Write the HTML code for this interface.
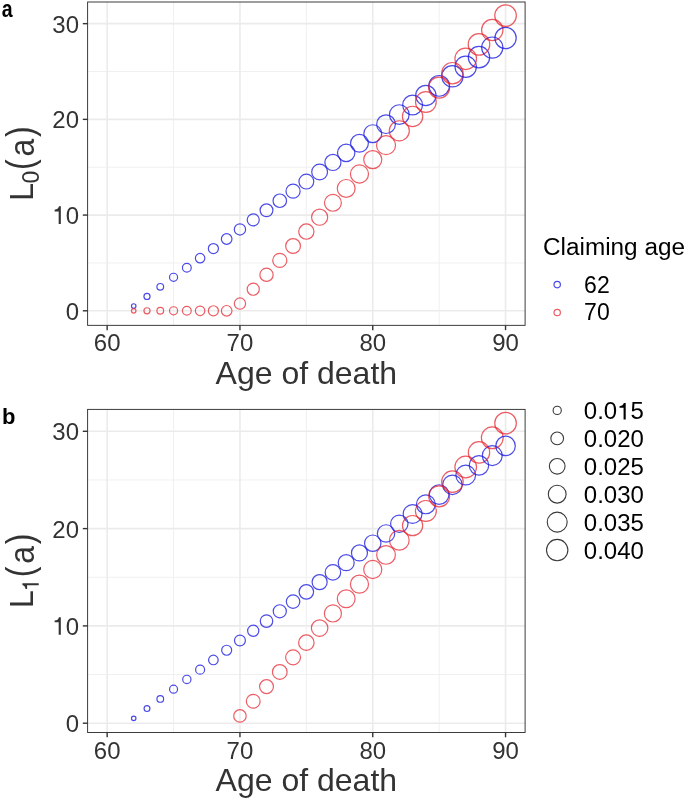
<!DOCTYPE html>
<html><head><meta charset="utf-8"><style>
html,body{margin:0;padding:0;background:#fff;width:685px;height:800px;overflow:hidden}
svg{display:block;will-change:transform}
text{font-family:"Liberation Sans",sans-serif}
</style></head><body>
<svg width="685" height="800" viewBox="0 0 685 800">
<rect width="685" height="800" fill="#fff"/>
<line x1="173.55" y1="2.0" x2="173.55" y2="325.35" stroke="#f0f0f0" stroke-width="1"/>
<line x1="306.35" y1="2.0" x2="306.35" y2="325.35" stroke="#f0f0f0" stroke-width="1"/>
<line x1="439.15" y1="2.0" x2="439.15" y2="325.35" stroke="#f0f0f0" stroke-width="1"/>
<line x1="87.6" y1="262.94" x2="525.1" y2="262.94" stroke="#f0f0f0" stroke-width="1"/>
<line x1="87.6" y1="167.22" x2="525.1" y2="167.22" stroke="#f0f0f0" stroke-width="1"/>
<line x1="87.6" y1="71.51" x2="525.1" y2="71.51" stroke="#f0f0f0" stroke-width="1"/>
<line x1="107.15" y1="2.0" x2="107.15" y2="325.35" stroke="#ebebeb" stroke-width="1.6"/>
<line x1="239.95" y1="2.0" x2="239.95" y2="325.35" stroke="#ebebeb" stroke-width="1.6"/>
<line x1="372.75" y1="2.0" x2="372.75" y2="325.35" stroke="#ebebeb" stroke-width="1.6"/>
<line x1="505.55" y1="2.0" x2="505.55" y2="325.35" stroke="#ebebeb" stroke-width="1.6"/>
<line x1="87.6" y1="310.80" x2="525.1" y2="310.80" stroke="#ebebeb" stroke-width="1.6"/>
<line x1="87.6" y1="215.08" x2="525.1" y2="215.08" stroke="#ebebeb" stroke-width="1.6"/>
<line x1="87.6" y1="119.37" x2="525.1" y2="119.37" stroke="#ebebeb" stroke-width="1.6"/>
<line x1="87.6" y1="23.65" x2="525.1" y2="23.65" stroke="#ebebeb" stroke-width="1.6"/>
<circle cx="133.71" cy="306.01" r="2.25" fill="none" stroke="rgba(30,30,225,0.8)" stroke-width="1.2"/>
<circle cx="133.71" cy="310.80" r="2.25" fill="none" stroke="rgba(228,30,40,0.72)" stroke-width="1.2"/>
<circle cx="146.99" cy="296.44" r="3.05" fill="none" stroke="rgba(30,30,225,0.8)" stroke-width="1.2"/>
<circle cx="146.99" cy="310.80" r="3.05" fill="none" stroke="rgba(228,30,40,0.72)" stroke-width="1.2"/>
<circle cx="160.27" cy="286.87" r="3.35" fill="none" stroke="rgba(30,30,225,0.8)" stroke-width="1.2"/>
<circle cx="160.27" cy="310.80" r="3.35" fill="none" stroke="rgba(228,30,40,0.72)" stroke-width="1.2"/>
<circle cx="173.55" cy="277.30" r="4.05" fill="none" stroke="rgba(30,30,225,0.8)" stroke-width="1.2"/>
<circle cx="173.55" cy="310.80" r="4.05" fill="none" stroke="rgba(228,30,40,0.72)" stroke-width="1.2"/>
<circle cx="186.83" cy="267.73" r="4.40" fill="none" stroke="rgba(30,30,225,0.8)" stroke-width="1.2"/>
<circle cx="186.83" cy="310.80" r="4.40" fill="none" stroke="rgba(228,30,40,0.72)" stroke-width="1.2"/>
<circle cx="200.11" cy="258.16" r="4.75" fill="none" stroke="rgba(30,30,225,0.8)" stroke-width="1.2"/>
<circle cx="200.11" cy="310.80" r="4.75" fill="none" stroke="rgba(228,30,40,0.72)" stroke-width="1.2"/>
<circle cx="213.39" cy="248.58" r="5.05" fill="none" stroke="rgba(30,30,225,0.8)" stroke-width="1.2"/>
<circle cx="213.39" cy="310.80" r="5.05" fill="none" stroke="rgba(228,30,40,0.72)" stroke-width="1.2"/>
<circle cx="226.67" cy="239.01" r="5.30" fill="none" stroke="rgba(30,30,225,0.8)" stroke-width="1.2"/>
<circle cx="226.67" cy="310.80" r="5.30" fill="none" stroke="rgba(228,30,40,0.72)" stroke-width="1.2"/>
<circle cx="239.95" cy="229.44" r="5.65" fill="none" stroke="rgba(30,30,225,0.8)" stroke-width="1.2"/>
<circle cx="239.95" cy="303.62" r="5.65" fill="none" stroke="rgba(228,30,40,0.72)" stroke-width="1.2"/>
<circle cx="253.23" cy="219.87" r="6.05" fill="none" stroke="rgba(30,30,225,0.8)" stroke-width="1.2"/>
<circle cx="253.23" cy="289.22" r="6.05" fill="none" stroke="rgba(228,30,40,0.72)" stroke-width="1.2"/>
<circle cx="266.51" cy="210.30" r="6.40" fill="none" stroke="rgba(30,30,225,0.8)" stroke-width="1.2"/>
<circle cx="266.51" cy="274.82" r="6.65" fill="none" stroke="rgba(228,30,40,0.72)" stroke-width="1.2"/>
<circle cx="279.79" cy="200.73" r="6.75" fill="none" stroke="rgba(30,30,225,0.8)" stroke-width="1.2"/>
<circle cx="279.79" cy="260.42" r="7.05" fill="none" stroke="rgba(228,30,40,0.72)" stroke-width="1.2"/>
<circle cx="293.07" cy="191.15" r="7.05" fill="none" stroke="rgba(30,30,225,0.8)" stroke-width="1.2"/>
<circle cx="293.07" cy="246.02" r="7.40" fill="none" stroke="rgba(228,30,40,0.72)" stroke-width="1.2"/>
<circle cx="306.35" cy="181.58" r="7.40" fill="none" stroke="rgba(30,30,225,0.8)" stroke-width="1.2"/>
<circle cx="306.35" cy="231.62" r="7.65" fill="none" stroke="rgba(228,30,40,0.72)" stroke-width="1.2"/>
<circle cx="319.63" cy="172.01" r="7.90" fill="none" stroke="rgba(30,30,225,0.8)" stroke-width="1.2"/>
<circle cx="319.63" cy="217.22" r="8.05" fill="none" stroke="rgba(228,30,40,0.72)" stroke-width="1.2"/>
<circle cx="332.91" cy="162.44" r="8.05" fill="none" stroke="rgba(30,30,225,0.8)" stroke-width="1.2"/>
<circle cx="332.91" cy="202.82" r="8.45" fill="none" stroke="rgba(228,30,40,0.72)" stroke-width="1.2"/>
<circle cx="346.19" cy="152.87" r="8.70" fill="none" stroke="rgba(30,30,225,0.8)" stroke-width="1.2"/>
<circle cx="346.19" cy="188.42" r="8.90" fill="none" stroke="rgba(228,30,40,0.72)" stroke-width="1.2"/>
<circle cx="359.47" cy="143.30" r="8.90" fill="none" stroke="rgba(30,30,225,0.8)" stroke-width="1.2"/>
<circle cx="359.47" cy="174.02" r="9.05" fill="none" stroke="rgba(228,30,40,0.72)" stroke-width="1.2"/>
<circle cx="372.75" cy="133.72" r="8.95" fill="none" stroke="rgba(30,30,225,0.8)" stroke-width="1.2"/>
<circle cx="372.75" cy="159.62" r="9.05" fill="none" stroke="rgba(228,30,40,0.72)" stroke-width="1.2"/>
<circle cx="386.03" cy="124.15" r="9.35" fill="none" stroke="rgba(30,30,225,0.8)" stroke-width="1.2"/>
<circle cx="386.03" cy="145.21" r="9.50" fill="none" stroke="rgba(228,30,40,0.72)" stroke-width="1.2"/>
<circle cx="399.31" cy="114.58" r="9.85" fill="none" stroke="rgba(30,30,225,0.8)" stroke-width="1.2"/>
<circle cx="399.31" cy="130.81" r="10.05" fill="none" stroke="rgba(228,30,40,0.72)" stroke-width="1.2"/>
<circle cx="412.59" cy="105.01" r="9.90" fill="none" stroke="rgba(30,30,225,0.8)" stroke-width="1.2"/>
<circle cx="412.59" cy="116.41" r="10.15" fill="none" stroke="rgba(228,30,40,0.72)" stroke-width="1.2"/>
<circle cx="425.87" cy="95.44" r="10.15" fill="none" stroke="rgba(30,30,225,0.8)" stroke-width="1.2"/>
<circle cx="425.87" cy="102.01" r="10.35" fill="none" stroke="rgba(228,30,40,0.72)" stroke-width="1.2"/>
<circle cx="439.15" cy="85.87" r="10.36" fill="none" stroke="rgba(30,30,225,0.8)" stroke-width="1.2"/>
<circle cx="439.15" cy="87.61" r="10.51" fill="none" stroke="rgba(228,30,40,0.72)" stroke-width="1.2"/>
<circle cx="452.43" cy="76.29" r="10.67" fill="none" stroke="rgba(30,30,225,0.8)" stroke-width="1.2"/>
<circle cx="452.43" cy="73.21" r="10.72" fill="none" stroke="rgba(228,30,40,0.72)" stroke-width="1.2"/>
<circle cx="465.71" cy="66.72" r="10.68" fill="none" stroke="rgba(30,30,225,0.8)" stroke-width="1.2"/>
<circle cx="465.71" cy="58.81" r="10.78" fill="none" stroke="rgba(228,30,40,0.72)" stroke-width="1.2"/>
<circle cx="478.99" cy="57.15" r="10.68" fill="none" stroke="rgba(30,30,225,0.8)" stroke-width="1.2"/>
<circle cx="478.99" cy="44.41" r="10.78" fill="none" stroke="rgba(228,30,40,0.72)" stroke-width="1.2"/>
<circle cx="492.27" cy="47.58" r="10.59" fill="none" stroke="rgba(30,30,225,0.8)" stroke-width="1.2"/>
<circle cx="492.27" cy="30.01" r="10.69" fill="none" stroke="rgba(228,30,40,0.72)" stroke-width="1.2"/>
<circle cx="505.55" cy="38.01" r="10.65" fill="none" stroke="rgba(30,30,225,0.8)" stroke-width="1.2"/>
<circle cx="505.55" cy="15.61" r="10.80" fill="none" stroke="rgba(228,30,40,0.72)" stroke-width="1.2"/>
<rect x="87.6" y="2.0" width="437.50" height="323.35" fill="none" stroke="#333" stroke-width="0.95"/>
<line x1="82.8" y1="310.80" x2="87.6" y2="310.80" stroke="#333" stroke-width="1.4"/>
<g transform="translate(65.65,319.70) scale(1.0,1.035)" fill="#333"><text x="0.00" y="0" font-size="24">0</text></g>
<line x1="82.8" y1="215.08" x2="87.6" y2="215.08" stroke="#333" stroke-width="1.4"/>
<g transform="translate(52.30,223.98) scale(1.0,1.035)" fill="#333"><path transform="translate(0.00,0) scale(0.0240,-0.0240)" d="M266 0L266 505L97 505L97 573C210 588 244 613 279 709L355 709L355 0Z"/><text x="13.35" y="0" font-size="24">0</text></g>
<line x1="82.8" y1="119.37" x2="87.6" y2="119.37" stroke="#333" stroke-width="1.4"/>
<g transform="translate(52.30,128.27) scale(1.0,1.035)" fill="#333"><text x="0.00" y="0" font-size="24">20</text></g>
<line x1="82.8" y1="23.65" x2="87.6" y2="23.65" stroke="#333" stroke-width="1.4"/>
<g transform="translate(52.30,32.55) scale(1.0,1.035)" fill="#333"><text x="0.00" y="0" font-size="24">30</text></g>
<line x1="107.15" y1="325.35" x2="107.15" y2="330.15" stroke="#333" stroke-width="1.4"/>
<g transform="translate(93.80,351.35) scale(1.0,1.025)" fill="#333"><text x="0.00" y="0" font-size="24">60</text></g>
<line x1="239.95" y1="325.35" x2="239.95" y2="330.15" stroke="#333" stroke-width="1.4"/>
<g transform="translate(226.60,351.35) scale(1.0,1.025)" fill="#333"><text x="0.00" y="0" font-size="24">70</text></g>
<line x1="372.75" y1="325.35" x2="372.75" y2="330.15" stroke="#333" stroke-width="1.4"/>
<g transform="translate(359.40,351.35) scale(1.0,1.025)" fill="#333"><text x="0.00" y="0" font-size="24">80</text></g>
<line x1="505.55" y1="325.35" x2="505.55" y2="330.15" stroke="#333" stroke-width="1.4"/>
<g transform="translate(492.20,351.35) scale(1.0,1.025)" fill="#333"><text x="0.00" y="0" font-size="24">90</text></g>
<text x="306.35" y="384.05" text-anchor="middle" font-size="32" fill="#333">Age of death</text>
<g transform="translate(32.9,199.08) rotate(-90)" fill="#333"><text x="-1.6" y="0" font-size="32" transform="scale(1,1.05)">L</text><text x="15.50" y="5.80" font-size="23" fill="#333">0</text><text x="29.0" y="0" font-size="32" transform="translate(0,0.77) scale(1,1.24) translate(0,-0.77)">(</text><text x="42.5" y="0" font-size="32" transform="translate(0,1.2) scale(1,1.08)">a</text><text x="62.0" y="0" font-size="32" transform="translate(0,0.77) scale(1,1.24) translate(0,-0.77)">)</text></g>
<text x="0" y="0" font-size="23" font-weight="bold" fill="#000" transform="translate(1.7,17.1) scale(0.85,1)">a</text>
<line x1="173.55" y1="409.4" x2="173.55" y2="732.5" stroke="#f0f0f0" stroke-width="1"/>
<line x1="306.35" y1="409.4" x2="306.35" y2="732.5" stroke="#f0f0f0" stroke-width="1"/>
<line x1="439.15" y1="409.4" x2="439.15" y2="732.5" stroke="#f0f0f0" stroke-width="1"/>
<line x1="87.6" y1="674.55" x2="525.1" y2="674.55" stroke="#f0f0f0" stroke-width="1"/>
<line x1="87.6" y1="577.25" x2="525.1" y2="577.25" stroke="#f0f0f0" stroke-width="1"/>
<line x1="87.6" y1="479.95" x2="525.1" y2="479.95" stroke="#f0f0f0" stroke-width="1"/>
<line x1="107.15" y1="409.4" x2="107.15" y2="732.5" stroke="#ebebeb" stroke-width="1.6"/>
<line x1="239.95" y1="409.4" x2="239.95" y2="732.5" stroke="#ebebeb" stroke-width="1.6"/>
<line x1="372.75" y1="409.4" x2="372.75" y2="732.5" stroke="#ebebeb" stroke-width="1.6"/>
<line x1="505.55" y1="409.4" x2="505.55" y2="732.5" stroke="#ebebeb" stroke-width="1.6"/>
<line x1="87.6" y1="723.20" x2="525.1" y2="723.20" stroke="#ebebeb" stroke-width="1.6"/>
<line x1="87.6" y1="625.90" x2="525.1" y2="625.90" stroke="#ebebeb" stroke-width="1.6"/>
<line x1="87.6" y1="528.60" x2="525.1" y2="528.60" stroke="#ebebeb" stroke-width="1.6"/>
<line x1="87.6" y1="431.30" x2="525.1" y2="431.30" stroke="#ebebeb" stroke-width="1.6"/>
<circle cx="133.71" cy="718.34" r="2.25" fill="none" stroke="rgba(30,30,225,0.8)" stroke-width="1.2"/>
<circle cx="146.99" cy="708.61" r="2.90" fill="none" stroke="rgba(30,30,225,0.8)" stroke-width="1.2"/>
<circle cx="160.27" cy="698.88" r="3.35" fill="none" stroke="rgba(30,30,225,0.8)" stroke-width="1.2"/>
<circle cx="173.55" cy="689.15" r="4.00" fill="none" stroke="rgba(30,30,225,0.8)" stroke-width="1.2"/>
<circle cx="186.83" cy="679.42" r="4.15" fill="none" stroke="rgba(30,30,225,0.8)" stroke-width="1.2"/>
<circle cx="200.11" cy="669.69" r="4.50" fill="none" stroke="rgba(30,30,225,0.8)" stroke-width="1.2"/>
<circle cx="213.39" cy="659.96" r="4.80" fill="none" stroke="rgba(30,30,225,0.8)" stroke-width="1.2"/>
<circle cx="226.67" cy="650.23" r="5.00" fill="none" stroke="rgba(30,30,225,0.8)" stroke-width="1.2"/>
<circle cx="239.95" cy="640.50" r="5.45" fill="none" stroke="rgba(30,30,225,0.8)" stroke-width="1.2"/>
<circle cx="239.95" cy="715.90" r="6.25" fill="none" stroke="rgba(228,30,40,0.72)" stroke-width="1.2"/>
<circle cx="253.23" cy="630.77" r="5.60" fill="none" stroke="rgba(30,30,225,0.8)" stroke-width="1.2"/>
<circle cx="253.23" cy="701.26" r="6.90" fill="none" stroke="rgba(228,30,40,0.72)" stroke-width="1.2"/>
<circle cx="266.51" cy="621.04" r="6.25" fill="none" stroke="rgba(30,30,225,0.8)" stroke-width="1.2"/>
<circle cx="266.51" cy="686.62" r="6.95" fill="none" stroke="rgba(228,30,40,0.72)" stroke-width="1.2"/>
<circle cx="279.79" cy="611.31" r="6.55" fill="none" stroke="rgba(30,30,225,0.8)" stroke-width="1.2"/>
<circle cx="279.79" cy="671.99" r="7.35" fill="none" stroke="rgba(228,30,40,0.72)" stroke-width="1.2"/>
<circle cx="293.07" cy="601.58" r="6.75" fill="none" stroke="rgba(30,30,225,0.8)" stroke-width="1.2"/>
<circle cx="293.07" cy="657.35" r="7.45" fill="none" stroke="rgba(228,30,40,0.72)" stroke-width="1.2"/>
<circle cx="306.35" cy="591.85" r="7.25" fill="none" stroke="rgba(30,30,225,0.8)" stroke-width="1.2"/>
<circle cx="306.35" cy="642.71" r="7.75" fill="none" stroke="rgba(228,30,40,0.72)" stroke-width="1.2"/>
<circle cx="319.63" cy="582.12" r="7.55" fill="none" stroke="rgba(30,30,225,0.8)" stroke-width="1.2"/>
<circle cx="319.63" cy="628.07" r="8.25" fill="none" stroke="rgba(228,30,40,0.72)" stroke-width="1.2"/>
<circle cx="332.91" cy="572.38" r="7.75" fill="none" stroke="rgba(30,30,225,0.8)" stroke-width="1.2"/>
<circle cx="332.91" cy="613.43" r="8.55" fill="none" stroke="rgba(228,30,40,0.72)" stroke-width="1.2"/>
<circle cx="346.19" cy="562.65" r="8.00" fill="none" stroke="rgba(30,30,225,0.8)" stroke-width="1.2"/>
<circle cx="346.19" cy="598.79" r="8.90" fill="none" stroke="rgba(228,30,40,0.72)" stroke-width="1.2"/>
<circle cx="359.47" cy="552.93" r="8.00" fill="none" stroke="rgba(30,30,225,0.8)" stroke-width="1.2"/>
<circle cx="359.47" cy="584.15" r="9.05" fill="none" stroke="rgba(228,30,40,0.72)" stroke-width="1.2"/>
<circle cx="372.75" cy="543.20" r="8.20" fill="none" stroke="rgba(30,30,225,0.8)" stroke-width="1.2"/>
<circle cx="372.75" cy="569.51" r="9.05" fill="none" stroke="rgba(228,30,40,0.72)" stroke-width="1.2"/>
<circle cx="386.03" cy="533.47" r="8.70" fill="none" stroke="rgba(30,30,225,0.8)" stroke-width="1.2"/>
<circle cx="386.03" cy="554.88" r="9.35" fill="none" stroke="rgba(228,30,40,0.72)" stroke-width="1.2"/>
<circle cx="399.31" cy="523.74" r="8.70" fill="none" stroke="rgba(30,30,225,0.8)" stroke-width="1.2"/>
<circle cx="399.31" cy="540.24" r="9.85" fill="none" stroke="rgba(228,30,40,0.72)" stroke-width="1.2"/>
<circle cx="412.59" cy="514.00" r="9.40" fill="none" stroke="rgba(30,30,225,0.8)" stroke-width="1.2"/>
<circle cx="412.59" cy="525.60" r="10.10" fill="none" stroke="rgba(228,30,40,0.72)" stroke-width="1.2"/>
<circle cx="425.87" cy="504.28" r="9.45" fill="none" stroke="rgba(30,30,225,0.8)" stroke-width="1.2"/>
<circle cx="425.87" cy="510.96" r="10.45" fill="none" stroke="rgba(228,30,40,0.72)" stroke-width="1.2"/>
<circle cx="439.15" cy="494.55" r="9.81" fill="none" stroke="rgba(30,30,225,0.8)" stroke-width="1.2"/>
<circle cx="439.15" cy="496.32" r="10.46" fill="none" stroke="rgba(228,30,40,0.72)" stroke-width="1.2"/>
<circle cx="452.43" cy="484.82" r="9.72" fill="none" stroke="rgba(30,30,225,0.8)" stroke-width="1.2"/>
<circle cx="452.43" cy="481.68" r="10.77" fill="none" stroke="rgba(228,30,40,0.72)" stroke-width="1.2"/>
<circle cx="465.71" cy="475.09" r="9.88" fill="none" stroke="rgba(30,30,225,0.8)" stroke-width="1.2"/>
<circle cx="465.71" cy="467.04" r="10.82" fill="none" stroke="rgba(228,30,40,0.72)" stroke-width="1.2"/>
<circle cx="478.99" cy="465.36" r="9.73" fill="none" stroke="rgba(30,30,225,0.8)" stroke-width="1.2"/>
<circle cx="478.99" cy="452.40" r="10.68" fill="none" stroke="rgba(228,30,40,0.72)" stroke-width="1.2"/>
<circle cx="492.27" cy="455.63" r="9.94" fill="none" stroke="rgba(30,30,225,0.8)" stroke-width="1.2"/>
<circle cx="492.27" cy="437.77" r="10.89" fill="none" stroke="rgba(228,30,40,0.72)" stroke-width="1.2"/>
<circle cx="505.55" cy="445.90" r="9.75" fill="none" stroke="rgba(30,30,225,0.8)" stroke-width="1.2"/>
<circle cx="505.55" cy="423.13" r="10.80" fill="none" stroke="rgba(228,30,40,0.72)" stroke-width="1.2"/>
<rect x="87.6" y="409.4" width="437.50" height="323.10" fill="none" stroke="#333" stroke-width="0.95"/>
<line x1="82.8" y1="723.20" x2="87.6" y2="723.20" stroke="#333" stroke-width="1.4"/>
<g transform="translate(65.65,732.10) scale(1.0,1.035)" fill="#333"><text x="0.00" y="0" font-size="24">0</text></g>
<line x1="82.8" y1="625.90" x2="87.6" y2="625.90" stroke="#333" stroke-width="1.4"/>
<g transform="translate(52.30,634.80) scale(1.0,1.035)" fill="#333"><path transform="translate(0.00,0) scale(0.0240,-0.0240)" d="M266 0L266 505L97 505L97 573C210 588 244 613 279 709L355 709L355 0Z"/><text x="13.35" y="0" font-size="24">0</text></g>
<line x1="82.8" y1="528.60" x2="87.6" y2="528.60" stroke="#333" stroke-width="1.4"/>
<g transform="translate(52.30,537.50) scale(1.0,1.035)" fill="#333"><text x="0.00" y="0" font-size="24">20</text></g>
<line x1="82.8" y1="431.30" x2="87.6" y2="431.30" stroke="#333" stroke-width="1.4"/>
<g transform="translate(52.30,440.20) scale(1.0,1.035)" fill="#333"><text x="0.00" y="0" font-size="24">30</text></g>
<line x1="107.15" y1="732.5" x2="107.15" y2="737.30" stroke="#333" stroke-width="1.4"/>
<g transform="translate(93.80,758.50) scale(1.0,1.025)" fill="#333"><text x="0.00" y="0" font-size="24">60</text></g>
<line x1="239.95" y1="732.5" x2="239.95" y2="737.30" stroke="#333" stroke-width="1.4"/>
<g transform="translate(226.60,758.50) scale(1.0,1.025)" fill="#333"><text x="0.00" y="0" font-size="24">70</text></g>
<line x1="372.75" y1="732.5" x2="372.75" y2="737.30" stroke="#333" stroke-width="1.4"/>
<g transform="translate(359.40,758.50) scale(1.0,1.025)" fill="#333"><text x="0.00" y="0" font-size="24">80</text></g>
<line x1="505.55" y1="732.5" x2="505.55" y2="737.30" stroke="#333" stroke-width="1.4"/>
<g transform="translate(492.20,758.50) scale(1.0,1.025)" fill="#333"><text x="0.00" y="0" font-size="24">90</text></g>
<text x="306.35" y="791.20" text-anchor="middle" font-size="32" fill="#333">Age of death</text>
<g transform="translate(32.9,606.35) rotate(-90)" fill="#333"><text x="-1.6" y="0" font-size="32" transform="scale(1,1.05)">L</text><g transform="translate(15.00,5.80) scale(1.0,1.0)" fill="#333"><path transform="translate(0.00,0) scale(0.0230,-0.0230)" d="M266 0L266 505L97 505L97 573C210 588 244 613 279 709L355 709L355 0Z"/></g><text x="29.0" y="0" font-size="32" transform="translate(0,0.77) scale(1,1.24) translate(0,-0.77)">(</text><text x="42.5" y="0" font-size="32" transform="translate(0,1.2) scale(1,1.08)">a</text><text x="62.0" y="0" font-size="32" transform="translate(0,0.77) scale(1,1.24) translate(0,-0.77)">)</text></g>
<text x="0" y="0" font-size="22" font-weight="bold" fill="#000" transform="translate(2,424.3) scale(1.0,1)">b</text>
<text x="543" y="254.9" font-size="23.5" textLength="142" lengthAdjust="spacingAndGlyphs" fill="#000">Claiming age</text>
<circle cx="557.2" cy="284.6" r="3.2" fill="none" stroke="rgba(30,30,225,0.8)" stroke-width="1.2"/>
<circle cx="557.2" cy="312.5" r="3.2" fill="none" stroke="rgba(228,30,40,0.72)" stroke-width="1.2"/>
<text x="584.10" y="293.10" font-size="23" fill="#000">62</text>
<text x="584.10" y="320.40" font-size="23" fill="#000">70</text>
<circle cx="557.2" cy="410.4" r="4.10" fill="none" stroke="#3a3a3a" stroke-width="1.1"/>
<g transform="translate(583.80,419.40) scale(1.0443,1.0)" fill="#000"><text x="0.00" y="0" font-size="23">0.0</text><path transform="translate(31.97,0) scale(0.0230,-0.0230)" d="M266 0L266 505L97 505L97 573C210 588 244 613 279 709L355 709L355 0Z"/><text x="44.77" y="0" font-size="23">5</text></g>
<circle cx="557.2" cy="438.4" r="6.35" fill="none" stroke="#3a3a3a" stroke-width="1.1"/>
<text x="583.80" y="447.40" font-size="23" textLength="60.11" lengthAdjust="spacingAndGlyphs" fill="#000">0.020</text>
<circle cx="557.2" cy="466.3" r="7.85" fill="none" stroke="#3a3a3a" stroke-width="1.1"/>
<text x="583.80" y="475.30" font-size="23" textLength="60.11" lengthAdjust="spacingAndGlyphs" fill="#000">0.025</text>
<circle cx="557.2" cy="494.2" r="8.90" fill="none" stroke="#3a3a3a" stroke-width="1.1"/>
<text x="583.80" y="503.20" font-size="23" textLength="60.11" lengthAdjust="spacingAndGlyphs" fill="#000">0.030</text>
<circle cx="557.2" cy="522.1" r="10.00" fill="none" stroke="#3a3a3a" stroke-width="1.1"/>
<text x="583.80" y="531.10" font-size="23" textLength="60.11" lengthAdjust="spacingAndGlyphs" fill="#000">0.035</text>
<circle cx="557.2" cy="550.1" r="10.70" fill="none" stroke="#3a3a3a" stroke-width="1.1"/>
<text x="583.80" y="559.10" font-size="23" textLength="60.11" lengthAdjust="spacingAndGlyphs" fill="#000">0.040</text>
</svg>
</body></html>
